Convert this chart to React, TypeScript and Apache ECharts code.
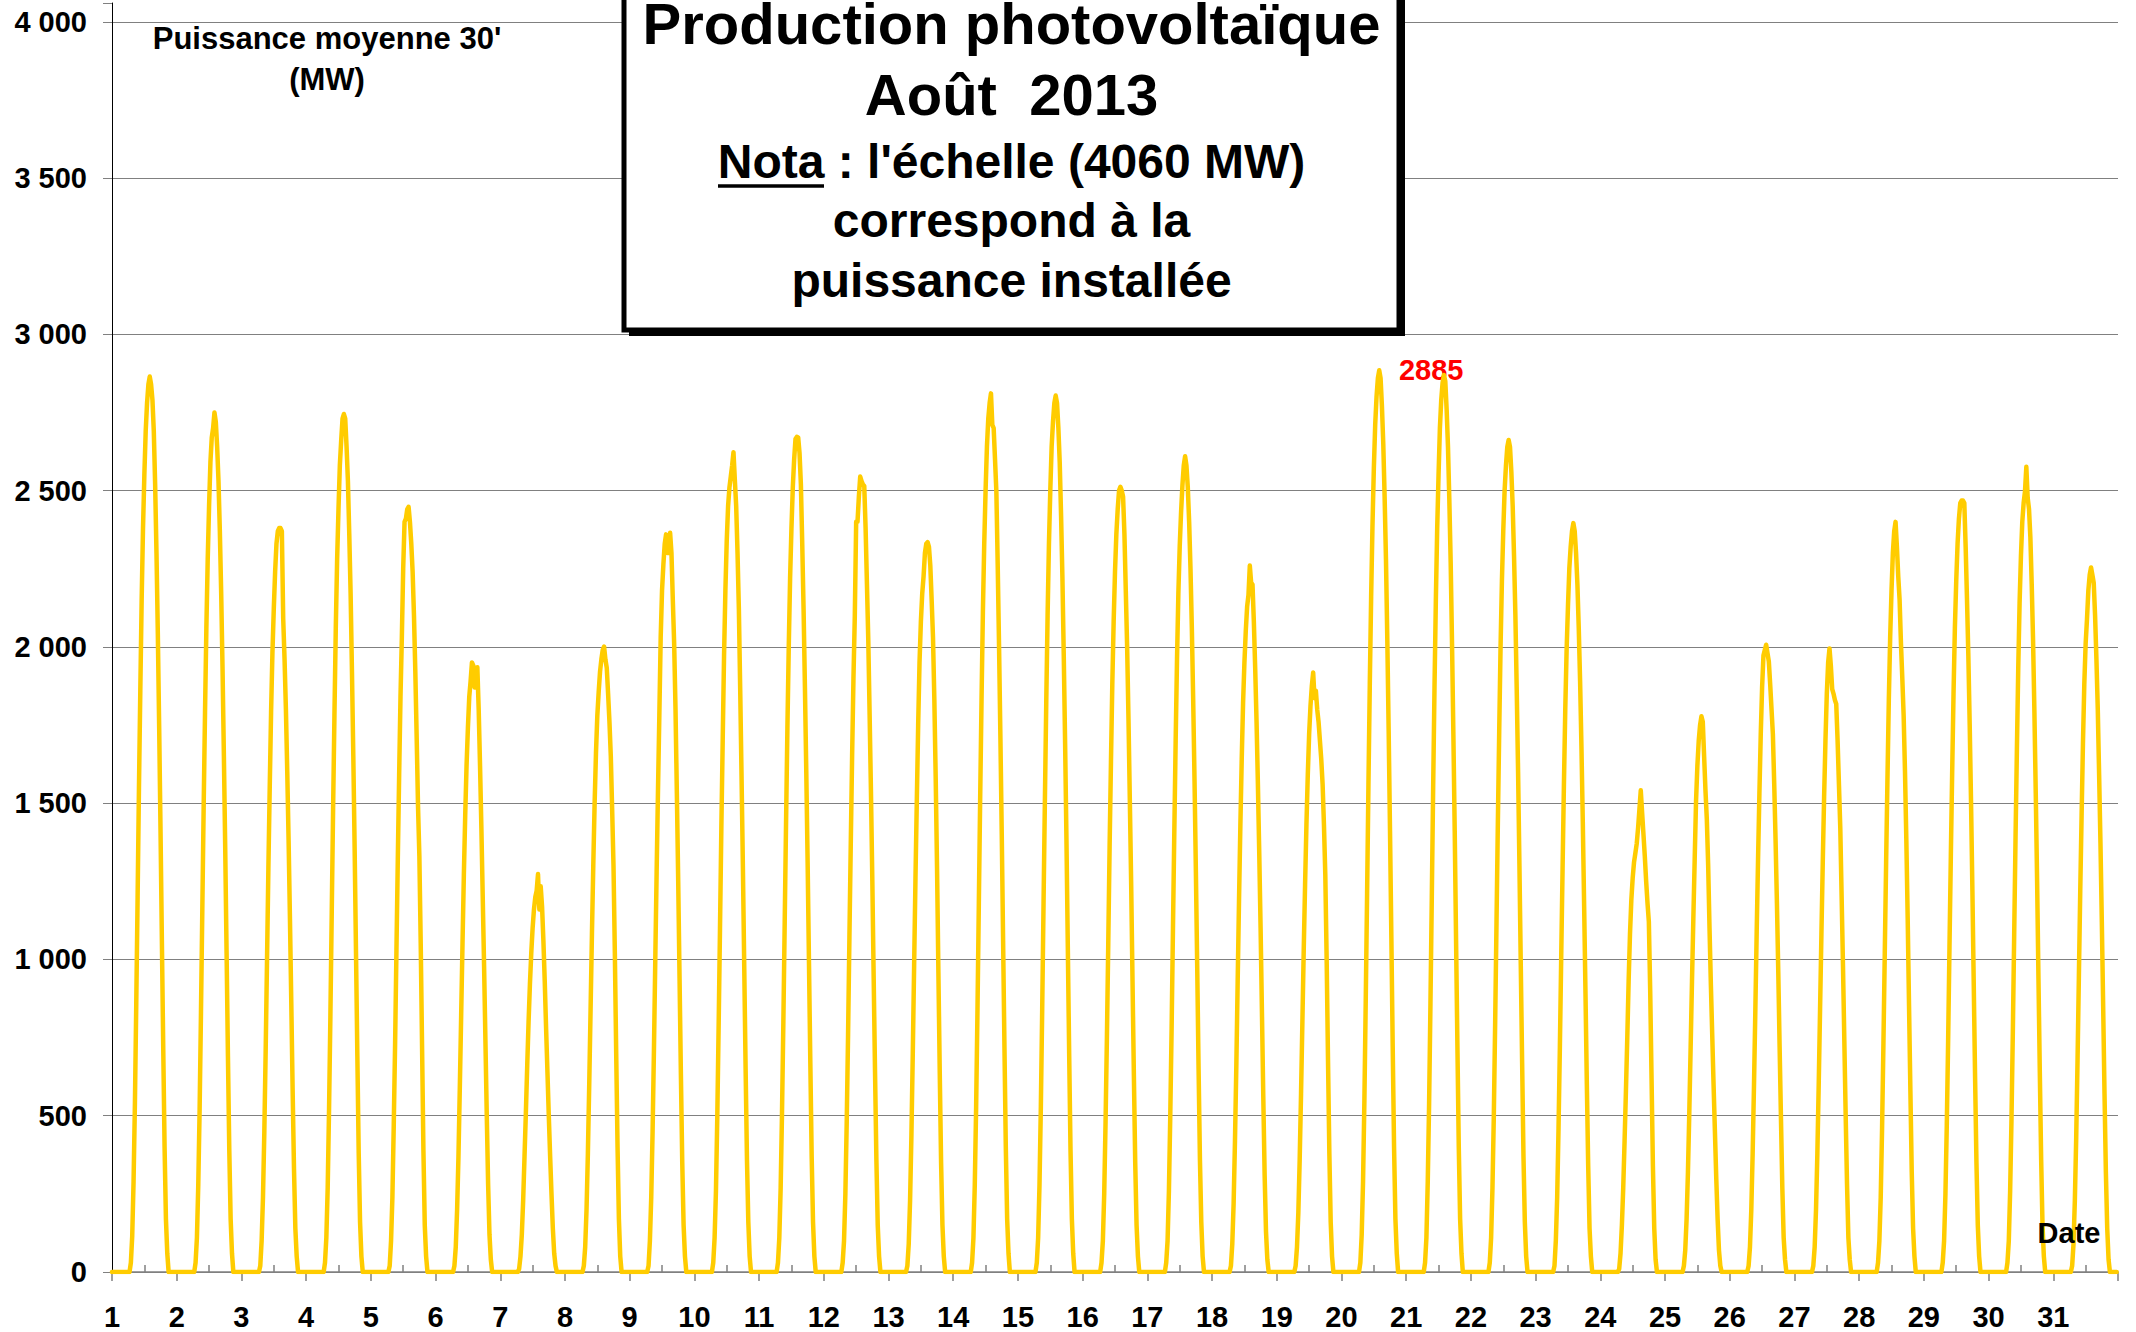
import React, { useEffect, useRef } from 'react';
import * as echarts from 'echarts';

const FONT = '"Liberation Sans", Arial, Helvetica, sans-serif';

// Day labels (x axis)
const DAY_LABELS = Array.from({ length: 31 }, (_, i) => String(i + 1));
// Y tick labels
const Y_TICK_VALUES = [0, 500, 1000, 1500, 2000, 2500, 3000, 3500, 4000];
const Y_TICK_LABELS = ['0', '500', '1 000', '1 500', '2 000', '2 500', '3 000', '3 500', '4 000'];

// Half-hourly mean power (MW), from 07:00 to 20:30 (28 slots) for each day; zero elsewhere
const FIRST_SLOT = 14; // 07:00
const SLOTS_PER_DAY = 48;
const D01 = [30,115,290,540,860,1200,1550,1860,2150,2380,2550,2690,2780,2840,2865,2840,2790,2690,2520,2300,2040,1740,1410,1060,720,400,170,60];
const D02 = [30,110,280,520,830,1160,1490,1790,2060,2280,2450,2590,2670,2700,2750,2720,2640,2530,2370,2170,1930,1650,1350,1020,690,390,170,60];
const D03 = [20,100,240,450,710,1000,1290,1550,1790,1980,2120,2240,2330,2370,2380,2380,2370,2090,1960,1800,1600,1380,1130,860,580,330,140,50];
const D04 = [30,110,270,520,820,1150,1480,1780,2060,2280,2440,2580,2660,2730,2745,2730,2640,2530,2360,2170,1920,1650,1350,1020,690,380,160,50];
const D05 = [20,100,240,470,730,1030,1320,1590,1840,2030,2250,2400,2410,2440,2448,2400,2330,2240,2100,1920,1710,1490,1330,1050,720,390,150,50];
const D06 = [20,80,200,370,590,820,1050,1270,1460,1620,1740,1840,1890,1950,1940,1870,1870,1935,1800,1620,1420,1200,980,740,500,280,120,40];
const D07 = [10,50,120,230,370,510,660,800,920,1020,1100,1160,1200,1220,1273,1160,1234,1170,1060,930,780,640,500,370,250,140,60,20];
const D08 = [20,80,200,380,600,840,1080,1300,1500,1660,1780,1855,1920,1960,1990,2001,1960,1933,1850,1760,1650,1480,1300,1020,700,400,170,50];
const D09 = [20,100,240,450,710,1000,1280,1540,1780,2030,2180,2263,2330,2360,2300,2300,2365,2300,2150,2010,1800,1530,1250,940,630,350,150,50];
const D10 = [30,110,260,500,790,1100,1420,1700,1970,2180,2340,2450,2510,2545,2580,2623,2535,2450,2300,2120,1860,1580,1290,970,650,360,160,50];
const D11 = [30,110,270,510,800,1120,1440,1740,2000,2220,2380,2510,2600,2665,2672,2670,2620,2520,2330,2120,1870,1600,1310,990,670,370,160,50];
const D12 = [30,100,250,480,760,1070,1370,1650,1900,2100,2400,2400,2480,2545,2530,2520,2515,2380,2200,2020,1780,1530,1250,940,640,360,150,50];
const D13 = [20,90,230,440,700,980,1260,1510,1750,1950,2080,2170,2225,2300,2330,2335,2320,2260,2150,2030,1830,1580,1290,960,640,350,150,50];
const D14 = [30,110,280,530,840,1180,1520,1830,2110,2330,2500,2640,2730,2780,2811,2710,2700,2600,2497,2260,2000,1710,1400,1060,720,400,170,60];
const D15 = [30,110,280,530,840,1180,1510,1820,2100,2330,2500,2640,2720,2780,2804,2780,2700,2590,2420,2220,1970,1690,1380,1040,700,390,170,60];
const D16 = [30,100,250,480,750,1050,1360,1630,1880,2080,2240,2360,2440,2500,2512,2500,2480,2360,2180,2000,1770,1510,1240,930,630,350,150,50];
const D17 = [30,100,260,500,780,1100,1410,1700,1960,2170,2320,2430,2516,2580,2610,2580,2510,2400,2250,2060,1830,1570,1280,970,650,360,160,50];
const D18 = [20,90,220,420,660,930,1190,1430,1640,1820,1950,2050,2128,2166,2260,2205,2200,2080,1930,1760,1560,1340,1100,830,560,310,130,40];
const D19 = [20,80,190,360,570,800,1030,1240,1430,1590,1720,1810,1875,1918,1836,1860,1800,1760,1700,1640,1560,1430,1270,1000,680,380,160,50];
const D20 = [30,120,290,550,870,1210,1560,1880,2160,2390,2570,2710,2800,2860,2885,2860,2770,2650,2480,2280,2020,1730,1410,1070,720,400,170,60];
const D21 = [30,110,290,540,860,1200,1550,1870,2150,2380,2550,2700,2790,2845,2870,2850,2760,2640,2470,2270,2010,1720,1410,1060,720,400,170,60];
const D22 = [30,110,270,500,800,1120,1440,1730,2000,2210,2370,2500,2580,2640,2662,2640,2560,2450,2290,2100,1860,1600,1300,980,670,370,160,50];
const D23 = [20,100,240,460,720,1010,1290,1560,1800,1990,2130,2250,2320,2370,2396,2370,2300,2200,2060,1890,1680,1440,1170,890,600,340,140,50];
const D24 = [10,60,150,270,420,580,750,930,1080,1190,1260,1311,1340,1370,1420,1480,1541,1470,1400,1330,1250,1180,1120,900,620,340,140,40];
const D25 = [20,70,170,320,510,720,930,1130,1320,1506,1620,1700,1750,1778,1760,1650,1540,1448,1300,1100,920,760,600,450,300,170,70,20];
const D26 = [20,80,200,380,600,840,1090,1320,1530,1720,1870,1972,1990,2007,1980,1953,1880,1800,1720,1560,1380,1180,960,720,490,270,110,40];
const D27 = [20,80,200,380,600,840,1080,1310,1520,1700,1850,1950,1995,1940,1865,1850,1830,1817,1700,1560,1420,1200,980,740,500,280,110,40];
const D28 = [30,100,240,460,730,1020,1310,1580,1830,2030,2180,2300,2370,2400,2320,2225,2150,2011,1900,1780,1600,1380,1130,850,580,320,140,50];
const D29 = [30,100,250,470,740,1040,1330,1600,1850,2060,2210,2330,2410,2460,2468,2468,2460,2320,2150,1970,1750,1500,1220,920,620,350,150,50];
const D30 = [30,100,260,490,770,1080,1390,1670,1930,2140,2290,2400,2460,2497,2576,2477,2440,2350,2200,2020,1790,1530,1250,940,640,360,150,50];
const D31 = [20,90,230,430,680,950,1220,1460,1690,1880,2010,2089,2180,2230,2254,2230,2205,2100,1960,1800,1590,1370,1120,850,570,320,140,40];

const DAY_PROFILES = [D01,D02,D03,D04,D05,D06,D07,D08,D09,D10,D11,D12,D13,D14,D15,D16,D17,D18,D19,D20,D21,D22,D23,D24,D25,D26,D27,D28,D29,D30,D31];

function buildSeries(): [number, number][] {
  const out: [number, number][] = [];
  DAY_PROFILES.forEach((prof, d) => {
    for (let s = 0; s < SLOTS_PER_DAY; s++) {
      const k = s - FIRST_SLOT;
      const v = k >= 0 && k < prof.length ? prof[k] : 0;
      out.push([d + s / SLOTS_PER_DAY, v]);
    }
  });
  return out;
}

const GRID_COLOR = '#808080';
const LINE_COLOR = '#FFCC00';

export default function App() {
  const ref = useRef<HTMLDivElement>(null);
  useEffect(() => {
    if (!ref.current) return;
    const chart = echarts.init(ref.current, null, { renderer: 'svg' });
    const labelStyle = { fontSize: 29, fontWeight: 'bold', color: '#000', fontFamily: FONT };
    const boxText = (text: string, y: number, size: number) => ({
      type: 'text', z: 102, x: 1011.5, y,
      style: {
        text, fill: '#000', fontSize: size, fontWeight: 'bold', fontFamily: FONT,
        align: 'center', verticalAlign: 'middle', textAlign: 'center', textVerticalAlign: 'middle',
      },
    });
    const plainText = (text: string, x: number, y: number, size: number) => ({
      type: 'text', z: 102, x, y,
      style: {
        text, fill: '#000', fontSize: size, fontWeight: 'bold', fontFamily: FONT,
        align: 'center', verticalAlign: 'middle', textAlign: 'center', textVerticalAlign: 'middle',
      },
    });
    const option: any = {
      animation: false,
      backgroundColor: '#ffffff',
      grid: { left: 112, right: 18, top: 3, bottom: 60, containLabel: false, outerBoundsMode: 'none' },
      xAxis: [
        {
          type: 'value', min: 0, max: 31, interval: 1, position: 'bottom',
          axisLine: { show: true, onZero: false, lineStyle: { color: GRID_COLOR, width: 1.5 } },
          axisTick: { show: true, length: 9, lineStyle: { color: GRID_COLOR, width: 1.5 } },
          axisLabel: {
            ...labelStyle, margin: 30,
            formatter: (v: number) => { const i = Math.round(v); return i < DAY_LABELS.length ? DAY_LABELS[i] : ''; },
          },
          splitLine: { show: false },
        },
        {
          type: 'category', data: DAY_LABELS, position: 'bottom', boundaryGap: true,
          axisLine: { show: false },
          axisLabel: { show: false },
          axisTick: { show: true, inside: true, alignWithLabel: true, length: 7, lineStyle: { color: GRID_COLOR, width: 1.5 } },
          splitLine: { show: false },
        },
      ],
      yAxis: {
        type: 'value', min: 0, max: 4060, interval: 500,
        axisLine: { show: true, lineStyle: { color: '#000', width: 1 } },
        axisTick: { show: true, length: 9, lineStyle: { color: GRID_COLOR, width: 1 } },
        axisLabel: {
          ...labelStyle, margin: 25,
          formatter: (v: number) => { const i = Y_TICK_VALUES.indexOf(Math.round(v)); return i >= 0 ? Y_TICK_LABELS[i] : ''; },
        },
        splitLine: {
          show: true,
          lineStyle: { color: [...Y_TICK_VALUES.map(() => GRID_COLOR), 'rgba(0,0,0,0)'], width: 1 },
        },
      },
      series: [
        {
          type: 'line', xAxisIndex: 0, yAxisIndex: 0,
          data: buildSeries(),
          showSymbol: false, symbol: 'none', smooth: false, z: 5,
          lineStyle: { color: LINE_COLOR, width: 4.5, join: 'round', cap: 'round' },
          itemStyle: { color: LINE_COLOR },
          markPoint: {
            symbol: 'circle', symbolSize: 1,
            itemStyle: { color: 'rgba(0,0,0,0)' },
            data: [{ type: 'max', name: 'max' }],
            label: {
              show: true, position: 'inside', offset: [52, 0],
              color: '#FF0000', fontSize: 29, fontWeight: 'bold', fontFamily: FONT,
              formatter: (p: any) => String(Array.isArray(p.value) ? p.value[1] : p.value),
            },
          },
        },
      ],
      graphic: [
        { type: 'rect', z: 100, shape: { x: 629, y: -14, width: 776, height: 350 }, style: { fill: '#000' } },
        { type: 'rect', z: 101, shape: { x: 624, y: -20, width: 775, height: 350 }, style: { fill: '#fff', stroke: '#000', lineWidth: 5 } },
        boxText('Production photovoltaïque', 23, 58),
        boxText('Août  2013', 94, 58),
        boxText("Nota : l'échelle (4060 MW)", 161.5, 48),
        boxText('correspond à la', 220.5, 48),
        boxText('puissance installée', 280.5, 48),
        { type: 'line', z: 102, shape: { x1: 718, y1: 186, x2: 824, y2: 186 }, style: { stroke: '#000', lineWidth: 3.5 } },
        plainText("Puissance moyenne 30'", 327, 38, 31),
        plainText('(MW)', 327, 79, 31),
        plainText('Date', 2069, 1233, 29),
      ],
    };
    chart.setOption(option);
    return () => chart.dispose();
  }, []);
  return <div ref={ref} style={{ position: 'fixed', left: 0, top: 0, width: 2136, height: 1332, background: '#fff' }} />;
}
